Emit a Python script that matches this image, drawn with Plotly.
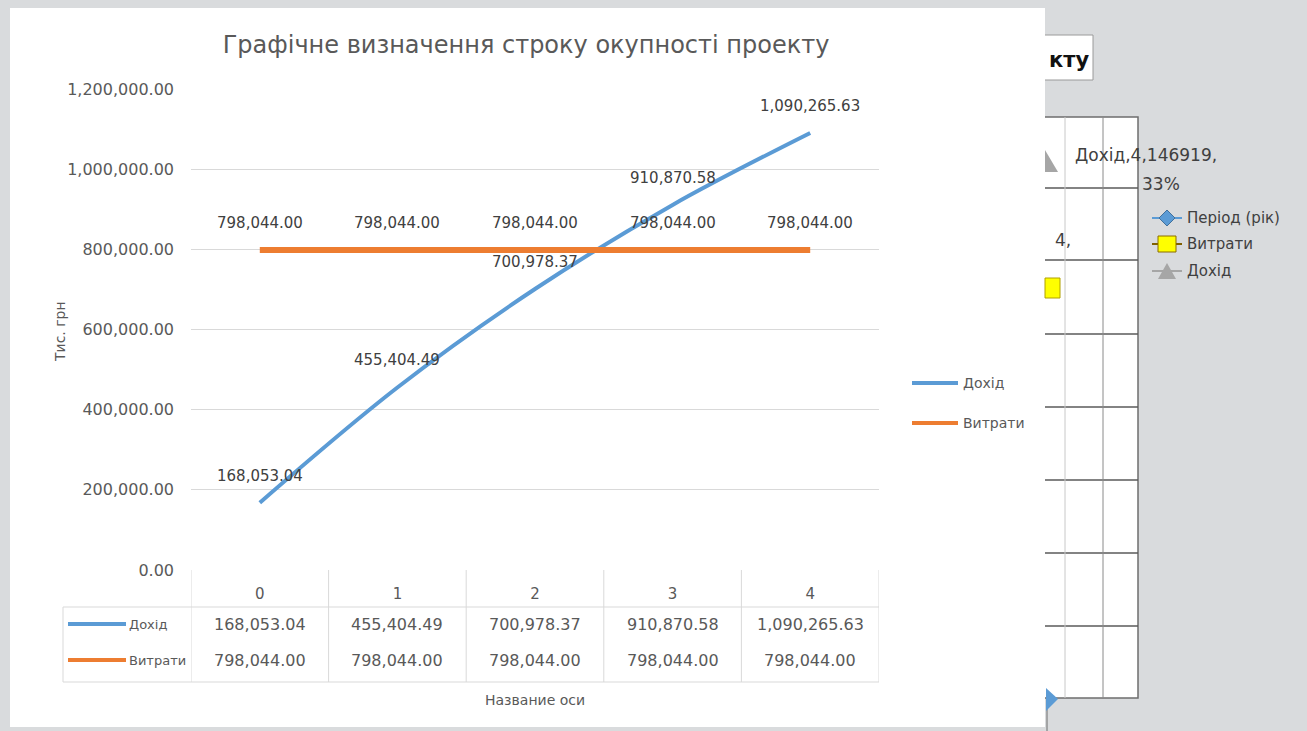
import plotly.graph_objects as go

# --- data ---------------------------------------------------------------
periods = [0, 1, 2, 3, 4]
period_labels = ["0", "1", "2", "3", "4"]
income = [168053.04, 455404.49, 700978.37, 910870.58, 1090265.63]
costs = [798044.00, 798044.00, 798044.00, 798044.00, 798044.00]
y_ticks = [0, 200000, 400000, 600000, 800000, 1000000, 1200000]

series = [("Дохід", income, "#5B9BD5", 4), ("Витрати", costs, "#ED7D31", 6)]

W, H = 1307, 731
FONT = "DejaVu Sans"
TXT = "#595959"
GRID = "#d9d9d9"


def px(x):
    return x / W


def py(y):
    return 1 - y / H


# plot area in pixels
PL, PR, PT, PB = 191, 879, 89, 570

fig = go.Figure()

for name, vals, color, width in series:
    fig.add_trace(go.Scatter(
        x=periods, y=vals, name=name, mode="lines",
        line=dict(color=color, width=width, shape="spline", smoothing=1.0),
        showlegend=False, hoverinfo="x+y",
    ))

shapes = []
annotations = []

# slide background elements partly hidden behind the chart
shapes.append(dict(type="rect", xref="paper", yref="paper", layer="below",
                   x0=px(1000), x1=px(1093), y0=py(80), y1=py(35),
                   fillcolor="white", line=dict(color="#9a9a9a", width=1)))
annotations.append(dict(xref="paper", yref="paper", x=px(1091), y=py(60),
                        xanchor="right", yanchor="middle", showarrow=False,
                        text="<b>кту</b>", font=dict(family=FONT, size=21, color="#111111")))
shapes.append(dict(type="rect", xref="paper", yref="paper", layer="below",
                   x0=px(1000), x1=px(1138), y0=py(698), y1=py(117),
                   fillcolor="white", line=dict(color="#6e6e6e", width=1.5)))
for yy in [188, 260, 334, 407, 480, 553, 626]:
    shapes.append(dict(type="line", xref="paper", yref="paper", layer="below",
                       x0=px(1000), x1=px(1138), y0=py(yy), y1=py(yy),
                       line=dict(color="#5a5a5a", width=1.5)))
shapes.append(dict(type="line", xref="paper", yref="paper", layer="below",
                   x0=px(1065), x1=px(1065), y0=py(698), y1=py(117),
                   line=dict(color="#c8c8c8", width=1)))
shapes.append(dict(type="line", xref="paper", yref="paper", layer="below",
                   x0=px(1103), x1=px(1103), y0=py(698), y1=py(117),
                   line=dict(color="#8a8a8a", width=1)))
shapes.append(dict(type="line", xref="paper", yref="paper", layer="below",
                   x0=px(1047), x1=px(1047), y0=py(731), y1=py(698),
                   line=dict(color="#6e6e6e", width=1)))
shapes.append(dict(type="path", xref="paper", yref="paper",
                   path=f"M {px(1046)},{py(688)} L {px(1058)},{py(699)} L {px(1046)},{py(711)} Z",
                   fillcolor="#5B9BD5", line=dict(width=0)))
shapes.append(dict(type="rect", xref="paper", yref="paper",
                   x0=px(1045), x1=px(1060), y0=py(298), y1=py(278),
                   fillcolor="#ffff00", line=dict(color="#b0a000", width=1)))
shapes.append(dict(type="path", xref="paper", yref="paper",
                   path=f"M {px(1045)},{py(150)} L {px(1058)},{py(172)} L {px(1045)},{py(172)} Z",
                   fillcolor="#a6a6a6", line=dict(width=0)))
annotations.append(dict(xref="paper", yref="paper", x=px(1073), y=py(240),
                        xanchor="right", yanchor="middle", showarrow=False,
                        text="4,", font=dict(family=FONT, size=17, color="#404040")))
annotations.append(dict(xref="paper", yref="paper", x=px(1073), y=py(155),
                        xanchor="left", yanchor="middle", showarrow=False,
                        text="Дохід,4,146919,", font=dict(family=FONT, size=17, color="#404040")))
annotations.append(dict(xref="paper", yref="paper", x=px(1140), y=py(184),
                        xanchor="left", yanchor="middle", showarrow=False,
                        text="33%", font=dict(family=FONT, size=17, color="#404040")))

# legend of the background chart
bg_legend = [("Період (рік)", 218, "#5B9BD5"), ("Витрати", 244, "#7f6000"), ("Дохід", 271, "#a6a6a6")]
for label, yy, lc in bg_legend:
    shapes.append(dict(type="line", xref="paper", yref="paper",
                       x0=px(1152), x1=px(1182), y0=py(yy), y1=py(yy),
                       line=dict(color=lc, width=2)))
    annotations.append(dict(xref="paper", yref="paper", x=px(1185), y=py(yy),
                            xanchor="left", yanchor="middle", showarrow=False,
                            text=label, font=dict(family=FONT, size=15, color="#404040")))
shapes.append(dict(type="path", xref="paper", yref="paper",
                   path=f"M {px(1167)},{py(210)} L {px(1175)},{py(218)} L {px(1167)},{py(226)} L {px(1159)},{py(218)} Z",
                   fillcolor="#5B9BD5", line=dict(color="#41719C", width=1)))
shapes.append(dict(type="rect", xref="paper", yref="paper",
                   x0=px(1158), x1=px(1176), y0=py(252), y1=py(236),
                   fillcolor="#ffff00", line=dict(color="#8a6d00", width=1)))
shapes.append(dict(type="path", xref="paper", yref="paper",
                   path=f"M {px(1167)},{py(263)} L {px(1176)},{py(279)} L {px(1158)},{py(279)} Z",
                   fillcolor="#a6a6a6", line=dict(width=0)))

# white chart area
shapes.append(dict(type="rect", xref="paper", yref="paper", layer="below",
                   x0=px(10), x1=px(1045), y0=py(727), y1=py(8),
                   fillcolor="white", line=dict(width=0)))

# data table under the plot
tl = dict(color=GRID, width=1)
for i in range(len(periods) + 1):
    xb = periods[0] - 0.5 + i
    shapes.append(dict(type="line", xref="x", yref="paper",
                       x0=xb, x1=xb, y0=py(PB), y1=py(682), line=tl))
for yy in [607, 682]:
    shapes.append(dict(type="line", xref="paper", yref="paper",
                       x0=px(63), x1=px(PR), y0=py(yy), y1=py(yy), line=tl))
shapes.append(dict(type="line", xref="paper", yref="paper",
                   x0=px(63), x1=px(63), y0=py(607), y1=py(682), line=tl))

row_y = [624, 660]
for (name, vals, color, width), yy in zip(series, row_y):
    shapes.append(dict(type="line", xref="paper", yref="paper",
                       x0=px(68), x1=px(126), y0=py(yy), y1=py(yy),
                       line=dict(color=color, width=4)))
    annotations.append(dict(xref="paper", yref="paper", x=px(127), y=py(yy),
                            xanchor="left", yanchor="middle", showarrow=False,
                            text=name, font=dict(family=FONT, size=13, color=TXT)))
    for xv, v in zip(periods, vals):
        annotations.append(dict(xref="x", yref="paper", x=xv, y=py(yy),
                                xanchor="center", yanchor="middle", showarrow=False,
                                text=f"{v:,.2f}", font=dict(family=FONT, size=16, color=TXT)))

# chart legend, right of the plot
legend_y = [383, 423]
for (name, vals, color, width), yy in zip(series, legend_y):
    shapes.append(dict(type="line", xref="paper", yref="paper",
                       x0=px(912), x1=px(958), y0=py(yy), y1=py(yy),
                       line=dict(color=color, width=4)))
    annotations.append(dict(xref="paper", yref="paper", x=px(961), y=py(yy),
                            xanchor="left", yanchor="middle", showarrow=False,
                            text=name, font=dict(family=FONT, size=14, color=TXT)))

# data labels above each point
for name, vals, color, width in series:
    for xv, v in zip(periods, vals):
        annotations.append(dict(xref="x", yref="y", x=xv, y=v, yshift=27,
                                xanchor="center", yanchor="middle", showarrow=False,
                                text=f"{v:,.2f}", font=dict(family=FONT, size=15, color="#404040")))

# axis titles
annotations.append(dict(xref="paper", yref="paper", x=px(60), y=py(332),
                        xanchor="center", yanchor="middle", showarrow=False, textangle=-90,
                        text="Тис. грн", font=dict(family=FONT, size=14, color=TXT)))
annotations.append(dict(xref="paper", yref="paper", x=px(535), y=py(700),
                        xanchor="center", yanchor="middle", showarrow=False,
                        text="Название оси", font=dict(family=FONT, size=14, color=TXT)))

fig.update_layout(
    width=W, height=H, autosize=False,
    margin=dict(l=0, r=0, t=0, b=0, pad=0, autoexpand=False),
    paper_bgcolor="#d9dbdd", plot_bgcolor="rgba(0,0,0,0)",
    font=dict(family=FONT, size=14, color=TXT),
    showlegend=False,
    title=dict(text="Графічне визначення строку окупності проекту",
               x=px(526), y=py(45), xref="paper", yref="paper",
               xanchor="center", yanchor="middle",
               font=dict(family=FONT, size=24, color=TXT)),
    xaxis=dict(domain=[px(PL), px(PR)], range=[-0.5, 4.5],
               tickvals=periods, ticktext=period_labels,
               showgrid=False, zeroline=False, showline=False, automargin=False,
               ticks="outside", ticklen=10, tickcolor="rgba(0,0,0,0)",
               tickfont=dict(family=FONT, size=15, color=TXT), fixedrange=True),
    yaxis=dict(domain=[py(PB), py(PT)], range=[0, 1200000],
               tickvals=y_ticks, tickformat=",.2f", automargin=False,
               gridcolor=GRID, gridwidth=1, zeroline=False, showline=False,
               ticks="", ticklabelstandoff=16,
               tickfont=dict(family=FONT, size=16, color=TXT), fixedrange=True),
    shapes=shapes,
    annotations=annotations,
)

fig.write_html("out.html")
